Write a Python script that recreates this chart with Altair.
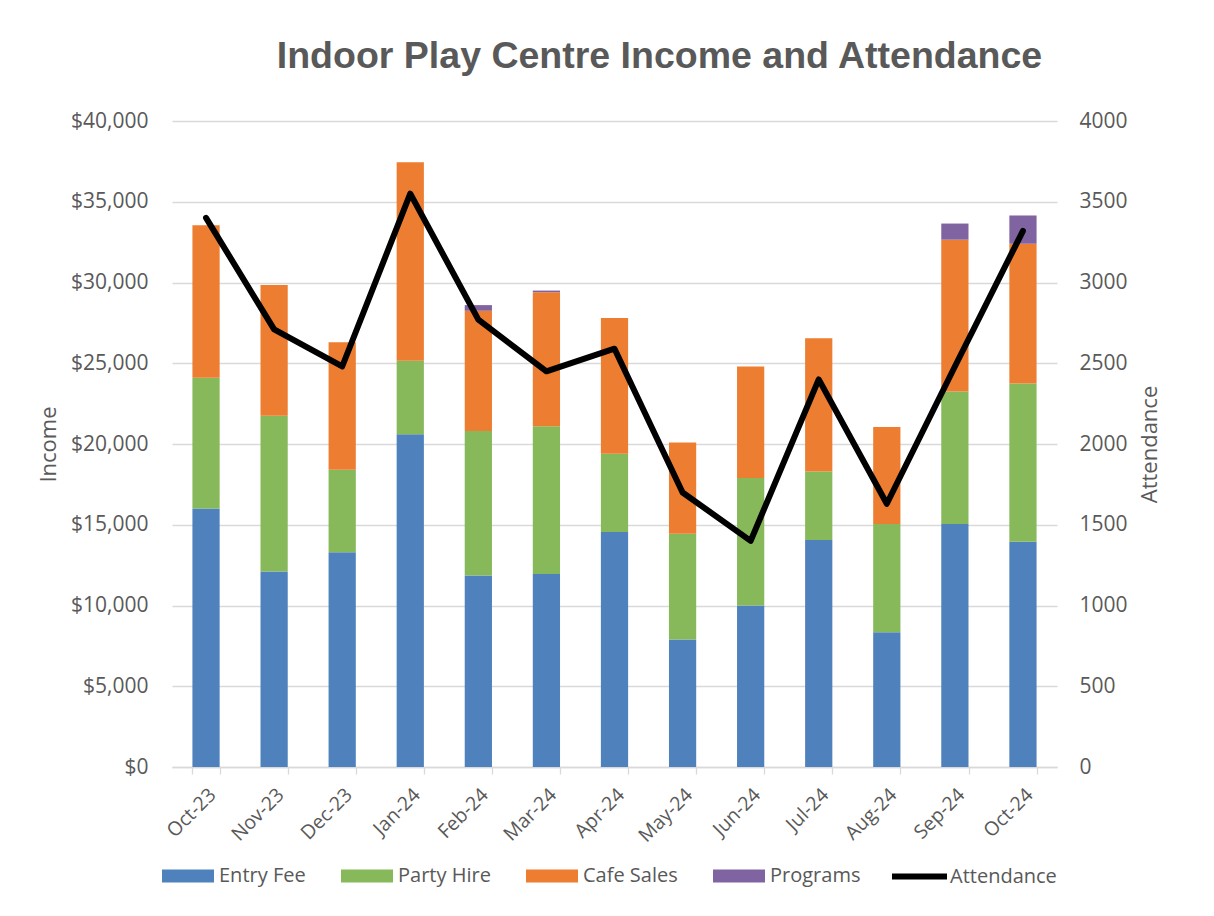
import altair as alt
import pandas as pd

months = ["Oct-23", "Nov-23", "Dec-23", "Jan-24", "Feb-24", "Mar-24", "Apr-24",
          "May-24", "Jun-24", "Jul-24", "Aug-24", "Sep-24", "Oct-24"]
entry_fee = [16000, 12100, 13300, 20600, 11850, 11950, 14550, 7900, 10000, 14050, 8350, 15050, 13950]
party_hire = [8100, 9650, 5100, 4550, 8950, 9150, 4850, 6550, 7900, 4250, 6700, 8200, 9800]
cafe_sales = [9450, 8100, 7900, 12300, 7450, 8300, 8400, 5650, 6900, 8250, 6000, 9400, 8650]
programs = [0, 0, 0, 0, 350, 100, 0, 0, 0, 0, 0, 1000, 1750]
attendance = [3400, 2710, 2480, 3550, 2770, 2450, 2590, 1700, 1400, 2400, 1630, 2480, 3320]

series_names = ["Entry Fee", "Party Hire", "Cafe Sales", "Programs"]
series_colors = ["#4f81bd", "#87b95b", "#ed7d31", "#8064a2"]
income_ticks = [0, 5000, 10000, 15000, 20000, 25000, 30000, 35000, 40000]
attendance_ticks = [0, 500, 1000, 1500, 2000, 2500, 3000, 3500, 4000]

rows = []
for k, (name, vals) in enumerate(zip(series_names, [entry_fee, party_hire, cafe_sales, programs])):
    for m, v in zip(months, vals):
        rows.append({"Month": m, "Source": name, "Value": v, "Order": k})
df_income = pd.DataFrame(rows)
df_att = pd.DataFrame({"Month": months, "Attendance": attendance, "Series": ["Attendance"] * len(months)})

TXT = "#595959"
FONT = "Open Sans"

bars = alt.Chart(df_income).mark_bar().encode(
    x=alt.X("Month:N", sort=months,
            scale=alt.Scale(paddingInner=0.6, paddingOuter=0.3),
            axis=alt.Axis(title=None, labelAngle=-45, labelFont=FONT, labelFontSize=19.5,
                          labelColor=TXT, domainColor="#d9d9d9", domainWidth=1.3,
                          tickColor="#d9d9d9", tickWidth=1.3, tickSize=7, tickBand="extent",
                          labelPadding=11, grid=False)),
    y=alt.Y("Value:Q", stack="zero", scale=alt.Scale(domain=[0, 40000], nice=False),
            axis=alt.Axis(title="Income", format="$,.0f", values=income_ticks,
                          labelFont=FONT, labelFontSize=21, labelColor=TXT,
                          titleFont=FONT, titleFontSize=22, titleColor=TXT, titleFontWeight="normal",
                          titlePadding=10, labelPadding=24, domain=False, ticks=False,
                          grid=True, gridColor="#d9d9d9", gridWidth=1.3)),
    color=alt.Color("Source:N", scale=alt.Scale(domain=series_names, range=series_colors),
                    legend=alt.Legend(title=None, orient="none", legendX=-10, legendY=742,
                                      direction="horizontal", columns=4,
                                      symbolType="M-1,-0.5H3V0.5H-1Z", symbolSize=676,
                                      symbolStrokeWidth=0, symbolOpacity=1,
                                      labelOffset=31, columnPadding=35, padding=0,
                                      labelFont=FONT, labelFontSize=20, labelColor=TXT)),
    order=alt.Order("Order:Q"),
)

line = alt.Chart(df_att).mark_line(strokeWidth=6, strokeJoin="round", strokeCap="round").encode(
    x=alt.X("Month:N", sort=months),
    y=alt.Y("Attendance:Q", scale=alt.Scale(domain=[0, 4000], nice=False),
            axis=alt.Axis(title="Attendance", orient="right", values=attendance_ticks, format="d",
                          labelFont=FONT, labelFontSize=21, labelColor=TXT,
                          titleFont=FONT, titleFontSize=22, titleColor=TXT, titleFontWeight="normal",
                          titleAngle=270, titleBaseline="top", titlePadding=12,
                          labelPadding=22, domain=False, ticks=False, grid=False)),
    stroke=alt.Stroke("Series:N", scale=alt.Scale(domain=["Attendance"], range=["#000000"]),
                      legend=alt.Legend(title=None, orient="none", legendX=717, legendY=725,
                                        symbolType="stroke", symbolSize=3025, symbolStrokeWidth=6,
                                        labelOffset=0, padding=0,
                                        labelFont=FONT, labelFontSize=20, labelColor=TXT)),
)

chart = alt.layer(bars, line).resolve_scale(y="independent").properties(
    width=885,
    height=646,
    title=alt.TitleParams("Indoor Play Centre Income and Attendance", font="Liberation Sans",
                          fontSize=37.5, fontWeight="bold", color=TXT, anchor="middle",
                          frame="group", dx=45, offset=5, baseline="alphabetic"),
    autosize=alt.AutoSizeParams(type="none"),
    padding={"left": 164, "top": 113, "right": 149, "bottom": 141},
).configure(background="white", view=alt.ViewConfig(stroke=None))

chart.save("out.html", embed_options={"renderer": "svg", "actions": False})
